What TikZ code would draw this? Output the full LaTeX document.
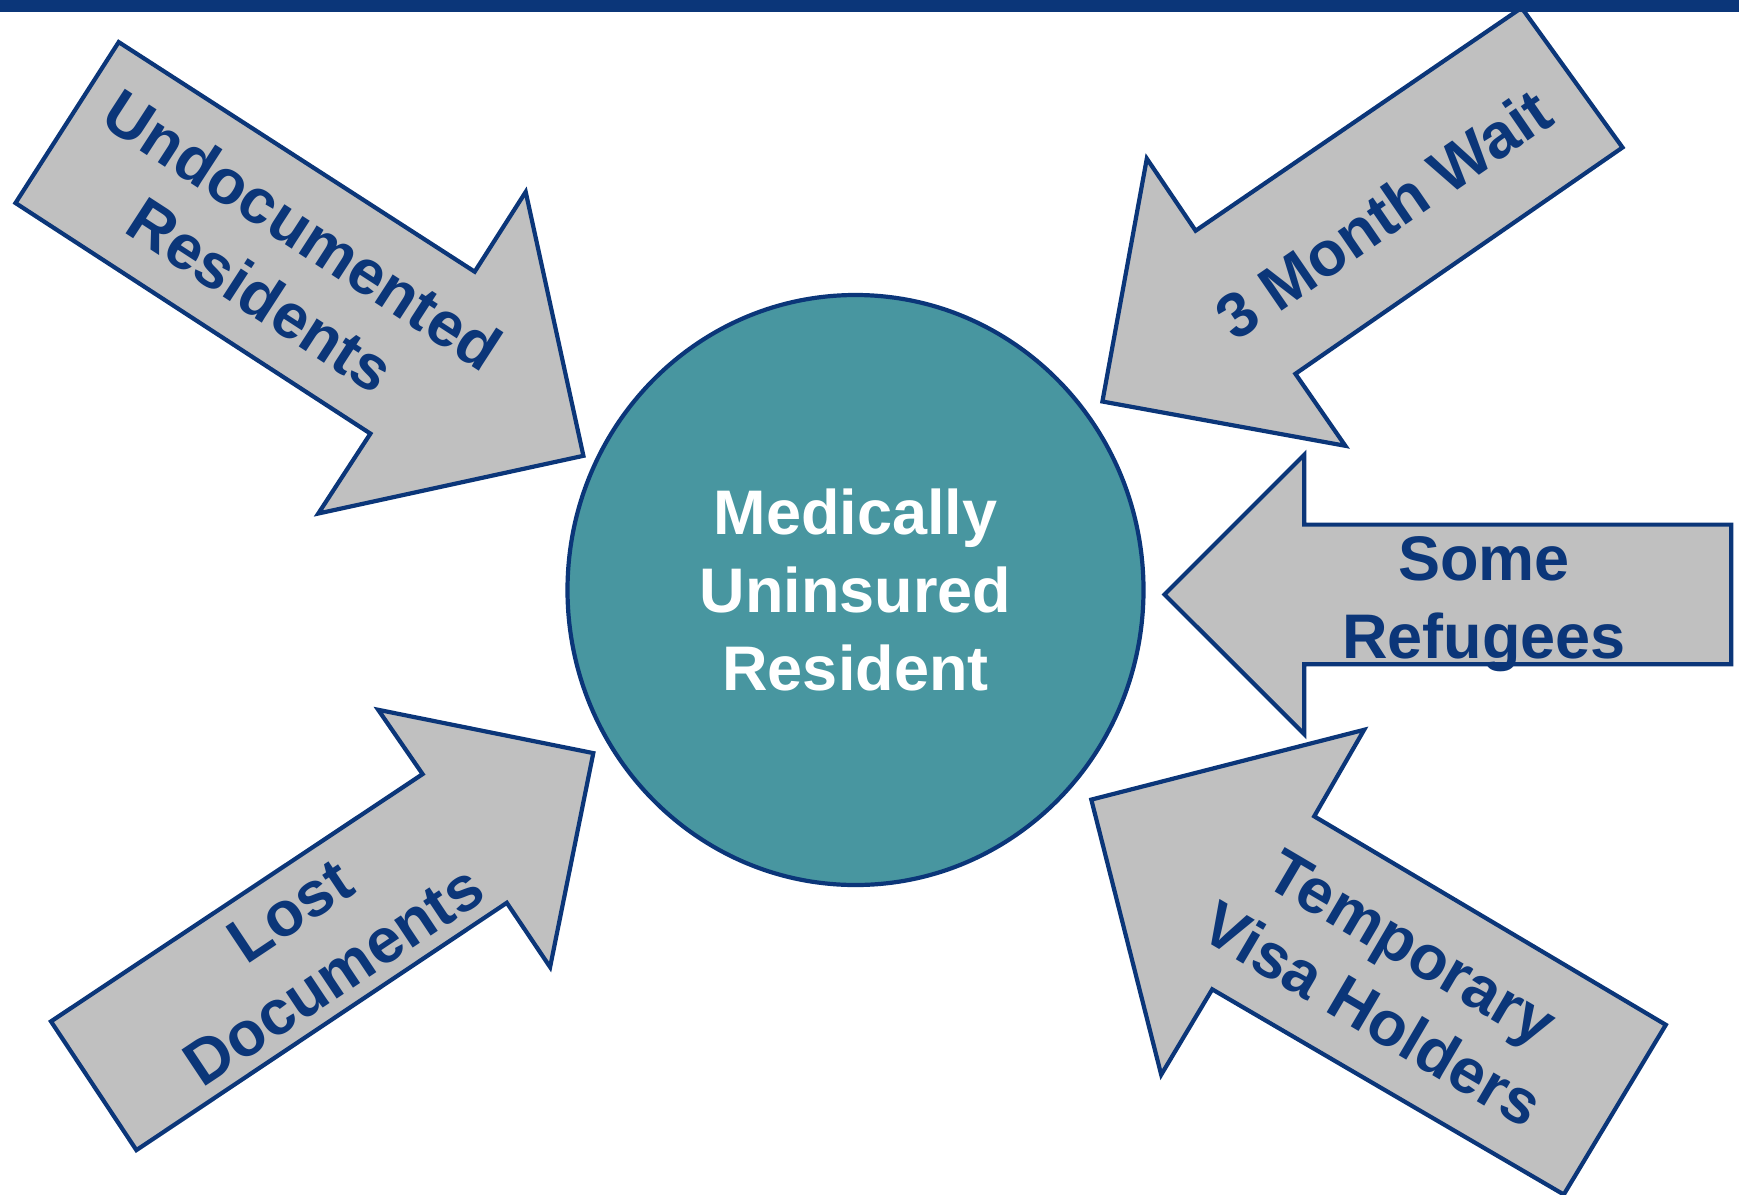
\documentclass[tikz,border=0pt]{standalone}
\usepackage{fontspec}
\setmainfont{Liberation Sans}
\usetikzlibrary{shapes.geometric}
\definecolor{navy}{HTML}{0B3679}
\definecolor{hubteal}{HTML}{4896A0}
\definecolor{shaftgray}{HTML}{C0C0C0}

\begin{document}
\begin{tikzpicture}[
  x=1pt, y=-1pt,
  blk/.style={draw=navy, fill=shaftgray, line width=4.2pt, line join=miter},
  lbl/.style={text=navy, font=\fontsize{63}{78}\selectfont\bfseries, align=center, inner sep=0pt},
  hub/.style={ellipse, draw=navy, fill=hubteal, line width=4.2pt, minimum width=576pt, minimum height=590pt,
    inner sep=0pt, text=white, font=\fontsize{63}{78}\selectfont\bfseries, align=center}
]
\useasboundingbox (0,0) rectangle (1739,1194);
\clip (0,0) rectangle (1739,1194);

\draw[blk] (118.7,42.1) -- (474.7,271.7) -- (525.7,191.9) -- (583.4,455.8) -- (318.3,513.5) -- (370.4,433.6) -- (15.5,203.0) -- cycle;
\draw[blk] (1521.6,7.8) -- (1622.5,147.5) -- (1295.4,373.8) -- (1345.3,445.8) -- (1102.4,401.5) -- (1146.8,158.6) -- (1195.6,230.7) -- cycle;
\draw[blk] (1164.5,594.5) -- (1304.3,454.7) -- (1304.3,524.6) -- (1731.2,524.6) -- (1731.2,664.3) -- (1304.3,664.3) -- (1304.3,734.2) -- cycle;
\draw[blk] (593.3,753.1) -- (378.2,709.8) -- (422.6,774.1) -- (51.0,1021.4) -- (136.4,1150.1) -- (506.8,902.8) -- (550.1,967.1) -- cycle;
\draw[blk] (1091.3,799.6) -- (1364.1,729.8) -- (1314.2,816.3) -- (1665.8,1024.8) -- (1563.8,1194.5) -- (1212.2,989.3) -- (1161.2,1074.7) -- cycle;

\node[hub] (hub) at (855.5,590) {Medically\\Uninsured\\Resident};

\node[lbl, rotate=-33] (undoc) at (282,262) {Undocumented\\Residents};
\node[lbl, rotate=34.5] (wait) at (1383,214) {3 Month Wait};
\node[lbl] (refug) at (1484,604) {Some\\Refugees};
\node[lbl, rotate=33.7] (lost) at (312,943) {Lost\\Documents};
\node[lbl, rotate=-30.5] (visa) at (1392,981) {Temporary\\Visa Holders};

\fill[navy] (0,0) rectangle (1739,12);
\end{tikzpicture}
\end{document}
